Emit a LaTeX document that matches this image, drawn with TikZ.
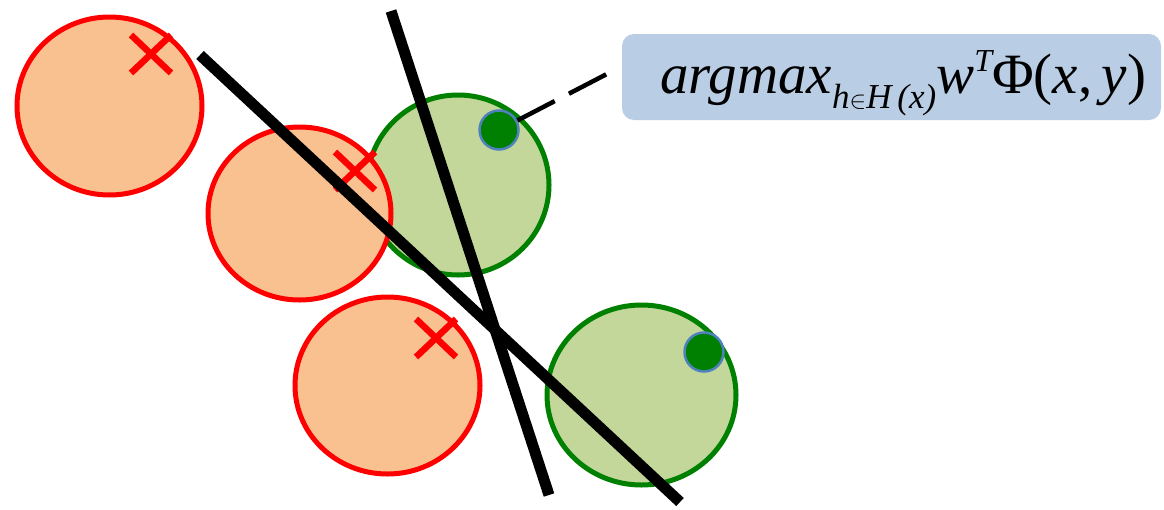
\documentclass[tikz,border=0pt]{standalone}
\usepackage{fontspec}
\setmainfont{Liberation Serif}
\usetikzlibrary{shapes.geometric}
\definecolor{negred}{HTML}{FF0000}
\definecolor{negfill}{HTML}{F9C090}
\definecolor{posgreen}{HTML}{008000}
\definecolor{posfill}{HTML}{C4D79B}
\definecolor{dotblue}{HTML}{4F81BD}
\definecolor{boxblue}{HTML}{B9CDE5}

\begin{document}
\begin{tikzpicture}[x=1pt, y=-1pt,
	posblob/.style={ellipse, draw=posgreen, line width=5pt, fill=posfill, inner sep=0pt},
	negblob/.style={ellipse, draw=negred, line width=5pt, fill=negfill, inner sep=0pt},
	gooddot/.style={circle, draw=dotblue, line width=2.5pt, fill=posgreen, minimum size=39pt, inner sep=0pt},
	crossmark/.style={negred, line width=6.5pt},
	sepline/.style={black, line width=11pt},
	callout/.style={black, line width=4.5pt, dash pattern=on 42pt off 16pt},
	formulabox/.style={fill=boxblue, rounded corners=12pt, minimum width=539pt, minimum height=86pt, inner sep=0pt}]
	\useasboundingbox (0,0) rectangle (1164,509);
	% positive bags
	\node[posblob, minimum width=182pt, minimum height=180pt] (p1) at (458,185) {};
	\node[posblob, minimum width=189pt, minimum height=180pt] (p2) at (641.5,395) {};
	% negative bags
	\node[negblob, minimum width=185pt, minimum height=178pt] (n1) at (109.5,106) {};
	\node[negblob, minimum width=183pt, minimum height=173pt] (n2) at (299.5,213.5) {};
	\node[negblob, minimum width=185pt, minimum height=177pt] (n3) at (387.5,385.5) {};
	\foreach \cx/\cy in {151/54, 355/171, 436/338}
		\draw[crossmark] (\cx-20,\cy-19) -- (\cx+20,\cy+19) (\cx-20,\cy+19) -- (\cx+20,\cy-19);
	% two separators
	\coordinate (a1) at (200,55);
	\coordinate (a2) at (680,502);
	\coordinate (b1) at (391,11);
	\coordinate (b2) at (549,495);
	\draw[sepline] (a1) -- (a2);
	\draw[sepline] (b1) -- (b2);
	% best instances
	\node[gooddot] (d1) at (499,130) {};
	\node[gooddot] (d2) at (704,352) {};
	% formula
	\node[formulabox] (box) at (891.5,77) {};
	\node[anchor=base west, inner sep=0pt] (formula) at (660,93) {\fontsize{57}{68}\selectfont\itshape argmax\raisebox{-15pt}{\fontsize{35}{42}\selectfont h$\in$H\,(x)}w\raisebox{22pt}{\fontsize{32}{38}\selectfont T}\upshape Φ(\itshape x\upshape ,\,\itshape y\upshape )};
	\draw[callout] (d1) -- ([xshift=-13pt,yshift=4pt]box.west);
\end{tikzpicture}
\end{document}
